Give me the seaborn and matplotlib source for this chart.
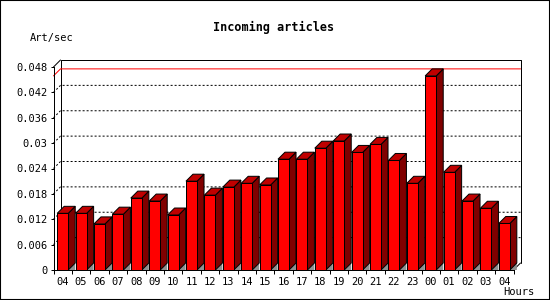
import numpy as np
import pandas as pd
import matplotlib
matplotlib.use("Agg")
import matplotlib.pyplot as plt
import seaborn as sns
from matplotlib.patches import Polygon, Rectangle
from matplotlib.lines import Line2D
import matplotlib.transforms as mtransforms

# ---- data ----
hours = ["04", "05", "06", "07", "08", "09", "10", "11", "12", "13", "14", "15",
         "16", "17", "18", "19", "20", "21", "22", "23", "00", "01", "02", "03", "04"]
rates = [0.0134, 0.0134, 0.0109, 0.0132, 0.0170, 0.0163, 0.0130, 0.0210, 0.0177,
         0.0196, 0.0205, 0.0201, 0.0262, 0.0262, 0.0288, 0.0305, 0.0278, 0.0297,
         0.0259, 0.0205, 0.0459, 0.0231, 0.0163, 0.0146, 0.0110]
yticks = [0, 0.006, 0.012, 0.018, 0.024, 0.030, 0.036, 0.042, 0.048]
ytick_labels = ["0", "0.006", "0.012", "0.018", "0.024", "0.03", "0.036", "0.042", "0.048"]
title = "Incoming articles"
ylabel = "Art/sec"
xlabel = "Hours"

FRONT = "#FF0000"
SIDE = "#800000"
TOP = "#C00000"
FLOOR = "#909090"

sns.set_style("white")
plt.rcParams['font.family'] = ['DejaVu Sans Mono', 'DejaVu Sans']

DPI = 100
W, H = 550, 300
D = 7  # depth in pixels
LW = 72 / DPI  # 1 pixel

fig = plt.figure(figsize=(W / DPI, H / DPI), dpi=DPI)
fig.patch.set_facecolor("white")
ax = fig.add_axes([53.5 / W, 30 / H, 460 / W, 203 / H])
ax.patch.set_alpha(0)

df = pd.DataFrame({"slot": np.arange(len(rates)), "rate": rates})
sns.barplot(data=df, x="slot", y="rate", color=FRONT, saturation=1, width=0.6,
            edgecolor="black", linewidth=LW, ax=ax, zorder=5)
ax.set_xlim(-0.5, len(rates) - 0.5)
ax.set_ylim(0, yticks[-1])
ax.set_xlabel("")
ax.set_ylabel("")

for s in ["top", "right"]:
    ax.spines[s].set_visible(False)
for s in ["left", "bottom"]:
    ax.spines[s].set_color("black")
    ax.spines[s].set_linewidth(LW)
    ax.spines[s].set_zorder(6)

ax.set_yticks(yticks, ytick_labels)
ax.set_xticks(np.arange(len(hours)), hours)
ax.set_xticks(np.arange(len(hours) + 1) - 0.5, minor=True)
ax.tick_params(axis="y", which="major", left=True, length=3 * LW, width=LW,
               direction="out", color="black", labelsize=7.5, pad=2, labelcolor="black")
ax.tick_params(axis="x", which="major", bottom=True, length=0, labelsize=7.5,
               pad=5, labelcolor="black")
ax.tick_params(axis="x", which="minor", bottom=True, length=4 * LW, width=LW,
               direction="out", color="black")

ident = mtransforms.IdentityTransform()
yax = ax.get_yaxis_transform()  # x in axes, y in data
dd = np.array([D, D])


def add_line(pts, **kw):
    pts = np.array(pts)
    ln = Line2D(pts[:, 0], pts[:, 1], transform=ident, clip_on=False, **kw)
    ax.add_artist(ln)


# back wall frame
bl = ax.transAxes.transform((0, 0)) + dd
tl = ax.transAxes.transform((0, 1)) + dd
tr = ax.transAxes.transform((1, 1)) + dd
br = ax.transAxes.transform((1, 0)) + dd
add_line([bl, tl, tr, br], color="black", lw=LW, zorder=2)
add_line([ax.transAxes.transform((0, 1)), tl], color="black", lw=LW, zorder=2)
add_line([ax.transAxes.transform((1, 0)), br], color="black", lw=LW, zorder=2)

# dotted grid on back wall
for v in yticks[1:-1]:
    p0 = yax.transform((0, v))
    p2 = yax.transform((1, v)) + dd
    add_line([p0, p0 + dd, p2], color="black", lw=LW, linestyle=(0, (2, 2)), zorder=2)

# max line
vmax = max(rates)
p0 = yax.transform((0, vmax))
add_line([p0, p0 + dd, yax.transform((1, vmax)) + dd], color="#FF0000", lw=LW, zorder=3)

# 3D faces for each bar
for p in list(ax.patches):
    x0, w, h = p.get_x(), p.get_width(), p.get_height()
    a = ax.transData.transform((x0, 0))
    b = ax.transData.transform((x0 + w, 0))
    c = ax.transData.transform((x0 + w, h))
    d = ax.transData.transform((x0, h))
    side = Polygon([b, b + dd, c + dd, c], closed=True, facecolor=SIDE,
                   edgecolor="black", lw=LW, transform=ident, clip_on=False, zorder=4)
    top = Polygon([d, c, c + dd, d + dd], closed=True, facecolor=TOP,
                  edgecolor="black", lw=LW, transform=ident, clip_on=False, zorder=4)
    floor = Polygon([b, b + dd, np.array([b[0] + D, b[1]])], closed=True,
                    facecolor=FLOOR, edgecolor="none", transform=ident,
                    clip_on=False, zorder=3)
    ax.add_patch(floor)
    ax.add_patch(side)
    ax.add_patch(top)

# texts
fig.text(273.6 / W, 1 - 27 / H, title, ha="center", va="center",
         fontsize=8.5, fontweight="bold", color="black")
fig.text(30 / W, 1 - 37.5 / H, ylabel, ha="left", va="center", fontsize=7.5, color="black")
fig.text(534 / W, 1 - 292 / H, xlabel, ha="right", va="center", fontsize=7.5, color="black")

# border
fig.add_artist(Rectangle((0, 0), 1, 1, transform=fig.transFigure, fill=False,
                         edgecolor="black", lw=1.5))

fig.savefig("out.png", dpi=DPI)
